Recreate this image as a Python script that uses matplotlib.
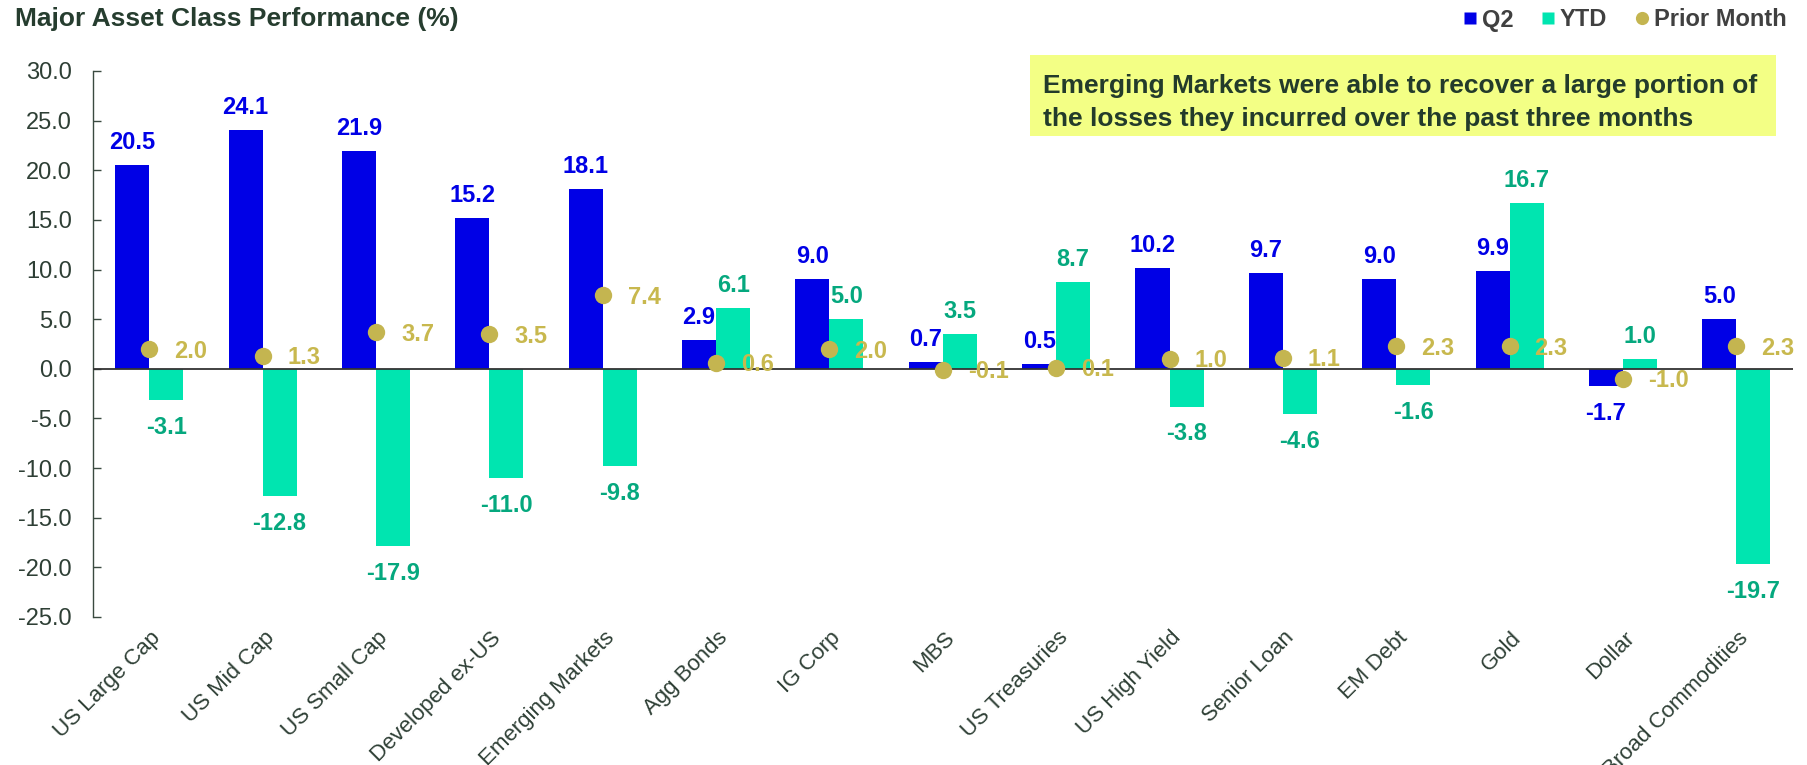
"""Major asset class performance: Q2 / YTD bars with prior-month dots."""
import matplotlib
matplotlib.use("Agg")
import matplotlib.pyplot as plt
import matplotlib.transforms as mtransforms
import numpy as np
from matplotlib.lines import Line2D
from matplotlib.patches import Rectangle

plt.rcParams["font.family"] = ["Liberation Sans", "DejaVu Sans"]
plt.rcParams["axes.unicode_minus"] = False

CATEGORIES = ["US Large Cap", "US Mid Cap", "US Small Cap", "Developed ex-US",
              "Emerging Markets", "Agg Bonds", "IG Corp", "MBS",
              "US Treasuries", "US High Yield", "Senior Loan", "EM Debt",
              "Gold", "Dollar", "Broad Commodities"]
Q2 = [20.5, 24.1, 21.9, 15.2, 18.1, 2.9, 9.0, 0.7, 0.5, 10.2, 9.7, 9.0, 9.9,
      -1.7, 5.0]
YTD = [-3.1, -12.8, -17.9, -11.0, -9.8, 6.1, 5.0, 3.5, 8.7, -3.8, -4.6, -1.6,
       16.7, 1.0, -19.7]
PRIOR = [2.0, 1.3, 3.7, 3.5, 7.4, 0.6, 2.0, -0.1, 0.1, 1.0, 1.1, 2.3, 2.3,
         -1.0, 2.3]
YTICKS = [30, 25, 20, 15, 10, 5, 0, -5, -10, -15, -20, -25]

BLUE = "#0000E6"
MINT = "#00E5B0"
MINT_TXT = "#05A87E"
GOLD = "#C4B550"
GOLD_TXT = "#C8B84E"
DARK = "#2E3F35"

W, H = 1808, 765
fig = plt.figure(figsize=(W / 100, H / 100), dpi=100)
ax = fig.add_axes([0.0512, 0.1935, 0.9405, 0.7137])

x = np.arange(len(CATEGORIES))
w = 0.30
ax.bar(x - w / 2, Q2, w, color=BLUE, zorder=2)
ax.bar(x + w / 2, YTD, w, color=MINT, zorder=2)
ax.plot(x, PRIOR, "o", color=GOLD, ms=12.5, mec="none", zorder=4)
ax.axhline(0, color="#333333", lw=1.3, zorder=3)


def value_label(xp, v, color):
    off = 11.5 if v >= 0 else -11.5
    ax.annotate(f"{v:.1f}", (xp, v), xytext=(0, off),
                textcoords="offset points", ha="center",
                va="baseline" if v >= 0 else "top",
                color=color, fontsize=17, fontweight="bold", zorder=5)


for i in range(len(CATEGORIES)):
    value_label(x[i] - w / 2, Q2[i], BLUE)
    value_label(x[i] + w / 2, YTD[i], MINT_TXT)
    ax.annotate(f"{PRIOR[i]:.1f}", (x[i], PRIOR[i]), xytext=(18, -1.5),
                textcoords="offset points", ha="left", va="center",
                color=GOLD_TXT, fontsize=17, fontweight="bold", zorder=5)

ax.set_xlim(-0.5, len(CATEGORIES) - 0.5)
ax.set_ylim(-25, 30)
ax.set_yticks(YTICKS)
ax.set_yticklabels([f"{t:.1f}" for t in YTICKS])
ax.tick_params(axis="y", direction="in", length=6, width=1, color="#3A4A40",
               pad=15, labelsize=17, labelcolor=DARK)
ax.set_xticks(x)
ax.set_xticklabels(CATEGORIES, rotation=45, ha="right",
                   rotation_mode="anchor", fontsize=16, color=DARK)
ax.tick_params(axis="x", length=0, pad=7.5)
shift = mtransforms.ScaledTranslation(1 / 100, 0, fig.dpi_scale_trans)
for lab in ax.get_xticklabels():
    lab.set_transform(lab.get_transform() + shift)

for s in ["top", "right", "bottom"]:
    ax.spines[s].set_visible(False)
ax.spines["left"].set_color("#3A4A40")
ax.spines["left"].set_linewidth(1)

fig.text(15 / W, 1 - 26 / H, "Major Asset Class Performance (%)",
         fontsize=19, fontweight="bold", color="#263D2F", va="baseline")

# legend, laid out by hand to sit where the original has it
legend_items = [("Q2", "s", BLUE, 1470, 1482),
                ("YTD", "s", MINT, 1548, 1560),
                ("Prior Month", "o", GOLD, 1642, 1654)]
for text, mk, col, mx, tx in legend_items:
    fig.add_artist(Line2D([mx / W], [1 - 18 / H], ls="none", marker=mk,
                          ms=9 if mk == "s" else 9.5, color=col, mec="none",
                          transform=fig.transFigure))
    fig.text(tx / W, 1 - 26.5 / H, text, fontsize=17, fontweight="bold",
             color="#404040", va="baseline", ha="left")

fig.patches.append(Rectangle((1030 / W, 1 - 136 / H), 746 / W, 81 / H,
                             transform=fig.transFigure,
                             facecolor="#F3FF85", edgecolor="none", zorder=1))
fig.text(1043 / W, 1 - 102.5 / H,
         "Emerging Markets were able to recover a large portion of\n"
         "the losses they incurred over the past three months",
         fontsize=19, fontweight="bold", color="#233B2B", va="center",
         ha="left", linespacing=1.45, zorder=2)

fig.savefig("out.png", dpi=100)
